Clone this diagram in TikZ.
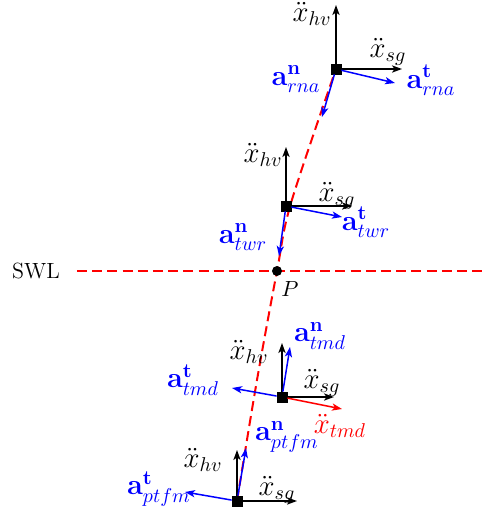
\documentclass[tikz,border=0pt]{standalone}
\usepackage{xcolor}
\usepackage{tikz}
\usetikzlibrary{arrows.meta}
\usepackage{amsmath}
\usepackage{amssymb}

\begin{document}
\begin{tikzpicture}[x=0.5pt, y=-0.5pt, every node/.style={font=\fontsize{11}{13}\selectfont},
  axis/.style={-{Stealth[length=5pt,width=3.6pt,inset=1.3pt]}, black, line width=0.75pt},
  acc/.style={-{Stealth[length=5pt,width=3.6pt,inset=1.3pt]}, blue, line width=0.75pt},
  body/.style={draw, fill=black, minimum size=5pt, inner sep=0pt},
  lbl/.style={font=\Large, inner sep=0pt},
  swl/.style={red, dashed, dash pattern=on 5pt off 2.6pt, line width=1pt}]

\useasboundingbox (0,0) rectangle (486,511);

% Still water level
\coordinate (swlL) at (77,271);
\coordinate (swlR) at (484,271);
\draw[swl] (swlL) -- (swlR);
\node (swltxt) at (36,271) {SWL};

% Deflected tower axis
\coordinate (axtop) at (336,69);
\coordinate (axtwr) at (291,203);
\coordinate (axp) at (277,271);
\coordinate (axtmd) at (257,380);
\coordinate (axbot) at (237,501);
\draw[swl] plot[smooth, tension=0.55] coordinates {(axbot) (axtmd) (axp) (axtwr) (axtop)};

% Point P
\node[circle, fill=black, inner sep=0pt, minimum size=5pt] (P) at (277,271) {};
\node (Ptxt) at (290,289) {$P$};

% Bodies
\node[body] (rna) at (336,69) {};
\node[body] (twr) at (286,206) {};
\node[body] (tmd) at (282,397) {};
\node[body] (ptfm) at (237,501) {};

% RNA
\coordinate (rnahv) at (336,5);
\coordinate (rnasg) at (402,69);
\coordinate (rnat) at (395,83);
\coordinate (rnan) at (322,117);
\draw[axis] (rna) -- (rnahv);
\draw[axis] (rna) -- (rnasg);
\draw[acc] (rna) -- (rnat);
\draw[acc] (rna) -- (rnan);
\node[lbl] (rnahvtxt) at (312,14) {$\ddot{x}_{hv}$};
\node[lbl] (rnasgtxt) at (388,52) {$\ddot{x}_{sg}$};
\node[lbl, blue] (rnattxt) at (431,80) {$\mathbf{a}^{\mathbf{t}}_{rna}$};
\node[lbl, blue] (rnantxt) at (296,79) {$\mathbf{a}^{\mathbf{n}}_{rna}$};

% Tower
\coordinate (twrhv) at (286,147);
\coordinate (twrsg) at (352,206);
\coordinate (twrt) at (342,217);
\coordinate (twrn) at (279,256);
\draw[axis] (twr) -- (twrhv);
\draw[axis] (twr) -- (twrsg);
\draw[acc] (twr) -- (twrt);
\draw[acc] (twr) -- (twrn);
\node[lbl] (twrhvtxt) at (263,155) {$\ddot{x}_{hv}$};
\node[lbl] (twrsgtxt) at (337,196) {$\ddot{x}_{sg}$};
\node[lbl, blue] (twrttxt) at (366,222) {$\mathbf{a}^{\mathbf{t}}_{twr}$};
\node[lbl, blue] (twrntxt) at (243,237) {$\mathbf{a}^{\mathbf{n}}_{twr}$};

% TMD
\coordinate (tmdhv) at (282,343);
\coordinate (tmdsg) at (334,397);
\coordinate (tmdn) at (290,347);
\coordinate (tmdt) at (232,388);
\coordinate (tmdrel) at (342,409);
\draw[axis] (tmd) -- (tmdhv);
\draw[axis] (tmd) -- (tmdsg);
\draw[acc] (tmd) -- (tmdn);
\draw[acc] (tmd) -- (tmdt);
\draw[axis, red] (tmd) -- (tmdrel);
\node[lbl] (tmdhvtxt) at (249,352) {$\ddot{x}_{hv}$};
\node[lbl] (tmdsgtxt) at (322,383) {$\ddot{x}_{sg}$};
\node[lbl, blue] (tmdntxt) at (320,336) {$\mathbf{a}^{\mathbf{n}}_{tmd}$};
\node[lbl, blue] (tmdttxt) at (193,380) {$\mathbf{a}^{\mathbf{t}}_{tmd}$};
\node[lbl, red] (tmdreltxt) at (340,426) {$\ddot{x}_{tmd}$};

% Platform
\coordinate (ptfmhv) at (237,450);
\coordinate (ptfmsg) at (297,501);
\coordinate (ptfmn) at (246,448);
\coordinate (ptfmt) at (185,492);
\draw[axis] (ptfm) -- (ptfmhv);
\draw[axis] (ptfm) -- (ptfmsg);
\draw[acc] (ptfm) -- (ptfmn);
\draw[acc] (ptfm) -- (ptfmt);
\node[lbl] (ptfmhvtxt) at (203,460) {$\ddot{x}_{hv}$};
\node[lbl] (ptfmsgtxt) at (277,490) {$\ddot{x}_{sg}$};
\node[lbl, blue] (ptfmntxt) at (287,437) {$\mathbf{a}^{\mathbf{n}}_{ptfm}$};
\node[lbl, blue] (ptfmttxt) at (159,489) {$\mathbf{a}^{\mathbf{t}}_{ptfm}$};

\end{tikzpicture}
\end{document}
